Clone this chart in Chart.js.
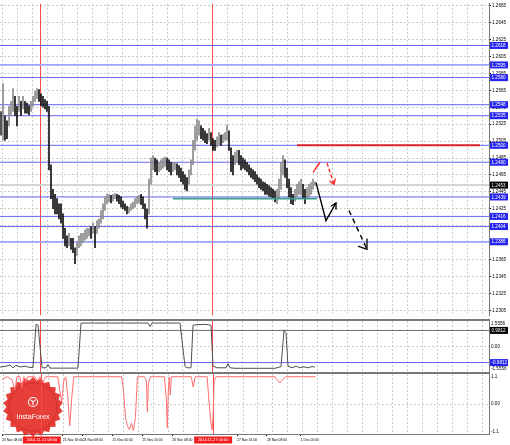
<!DOCTYPE html>
<html>
<head>
<meta charset="utf-8">
<script src="https://cdn.jsdelivr.net/npm/chart.js@4.4.1/dist/chart.umd.min.js"></script>
<style>
  body { margin: 0; background: #fff; }
  #wrap { position: relative; width: 510px; height: 445px; overflow: hidden; background: #fff; }
  canvas, .sep { position: absolute; left: 0; }
  .sep { width: 490px; background: #787878; }
</style>
</head>
<body>
<div id="wrap">
  <canvas id="main" width="510" height="319" style="top:0"></canvas>
  <div class="sep" style="top:319px;height:2px"></div>
  <canvas id="ind1" width="510" height="51" style="top:321px"></canvas>
  <div class="sep" style="top:372px;height:2px"></div>
  <canvas id="ind2" width="510" height="71" style="top:374px"></canvas>
</div>
<script>
// H1 bars, one per index (bar 0 = first visible bar)
const barHigh = [
  1.2540,1.2573,1.2535,1.2529,1.2546,1.2552,1.2567,1.2558,1.2546,1.2558,
  1.2552,1.2558,1.2552,1.2550,1.2547,1.2552,1.2558,1.2564,1.2567,1.2566,
  1.2561,1.2558,1.2554,1.2552,1.2546,1.2477,1.2448,1.2442,1.2437,1.2431,
  1.2431,1.2419,1.2402,1.2393,1.2396,1.2390,1.2390,1.2379,1.2385,1.2393,
  1.2396,1.2396,1.2400,1.2402,1.2402,1.2404,1.2408,1.2404,1.2411,1.2413,
  1.2423,1.2431,1.2439,1.2442,1.2442,1.2441,1.2442,1.2443,1.2442,1.2441,
  1.2439,1.2434,1.2431,1.2428,1.2427,1.2431,1.2433,1.2437,1.2439,1.2441,
  1.2442,1.2439,1.2431,1.2425,1.2460,1.2485,1.2488,1.2485,1.2483,1.2480,
  1.2483,1.2485,1.2486,1.2485,1.2483,1.2480,1.2479,1.2480,1.2478,1.2476,
  1.2473,1.2469,1.2465,1.2462,1.2471,1.2483,1.2506,1.2523,1.2531,1.2529,
  1.2523,1.2520,1.2517,1.2514,1.2520,1.2515,1.2508,1.2506,1.2510,1.2515,
  1.2512,1.2513,1.2515,1.2524,1.2517,1.2497,1.2488,1.2492,1.2494,1.2494,
  1.2488,1.2485,1.2483,1.2480,1.2477,1.2473,1.2471,1.2469,1.2465,1.2462,
  1.2460,1.2457,1.2456,1.2454,1.2452,1.2450,1.2448,1.2446,1.2448,1.2460,
  1.2480,1.2488,1.2483,1.2473,1.2460,1.2450,1.2442,1.2448,1.2454,1.2457,
  1.2460,1.2454,1.2448,1.2450,1.2454,1.2456,1.2460,1.2457
];
const barLow = [
  1.2512,1.2506,1.2506,1.2508,1.2523,1.2535,1.2540,1.2535,1.2523,1.2540,
  1.2535,1.2543,1.2538,1.2538,1.2536,1.2540,1.2546,1.2552,1.2555,1.2552,
  1.2547,1.2545,1.2543,1.2540,1.2471,1.2437,1.2425,1.2419,1.2419,1.2413,
  1.2408,1.2390,1.2381,1.2379,1.2381,1.2377,1.2373,1.2360,1.2370,1.2379,
  1.2381,1.2385,1.2388,1.2390,1.2393,1.2390,1.2396,1.2379,1.2396,1.2402,
  1.2408,1.2413,1.2423,1.2431,1.2433,1.2432,1.2434,1.2437,1.2434,1.2431,
  1.2427,1.2425,1.2423,1.2419,1.2420,1.2423,1.2425,1.2427,1.2431,1.2432,
  1.2430,1.2425,1.2413,1.2402,1.2419,1.2454,1.2471,1.2469,1.2465,1.2469,
  1.2471,1.2473,1.2475,1.2471,1.2469,1.2465,1.2469,1.2471,1.2465,1.2462,
  1.2457,1.2454,1.2448,1.2446,1.2454,1.2465,1.2477,1.2494,1.2506,1.2512,
  1.2508,1.2506,1.2503,1.2502,1.2506,1.2500,1.2494,1.2494,1.2498,1.2500,
  1.2500,1.2503,1.2506,1.2506,1.2494,1.2469,1.2465,1.2477,1.2480,1.2477,
  1.2471,1.2473,1.2471,1.2469,1.2465,1.2462,1.2460,1.2457,1.2454,1.2450,
  1.2448,1.2446,1.2442,1.2442,1.2440,1.2439,1.2437,1.2433,1.2431,1.2437,
  1.2448,1.2465,1.2462,1.2450,1.2439,1.2431,1.2430,1.2434,1.2439,1.2442,
  1.2441,1.2437,1.2431,1.2437,1.2439,1.2442,1.2448,1.2453
];

const priceTicks = [1.2305, 1.2325, 1.2345, 1.2365, 1.2385, 1.2405, 1.2425, 1.2445, 1.2465,
  1.2485, 1.2505, 1.2525, 1.2545, 1.2565, 1.2585, 1.2605, 1.2625, 1.2645, 1.2665];
const levelPrices = [1.2618, 1.2595, 1.2580, 1.2548, 1.2535, 1.2500, 1.2480, 1.2439, 1.2416, 1.2404, 1.2386];
const lastPrice = 1.2453;
const redLevelBars = [148, 239.5];
const redLevelPrice = 1.2500;
const tealBars = [86, 158];
const tealPrice = 1.2437;

const markerBars = [19.5, 105.5];
const markerLabels = ['2014.11.21 08:00', '2014.11.27 00:00'];
const timeTickBars = [-0.5, 30, 40, 55, 70, 85, 117.5, 132.5, 149.5];
const timeTickLabels = ['20 Nov 08:00', '21 Nov 16:00', '24 Nov 08:00', '25 Nov 00:00', '25 Nov 16:00',
  '26 Nov 08:00', '27 Nov 16:00', '28 Nov 08:00', '1 Dec 00:00'];

// forecast drawing, [bar, price]
const arrowRedUp = [[156, 1.2468], [159.5, 1.2480]];
const arrowRedDown = [[163, 1.2479], [166.5, 1.2454]];
const arrowRedHead = [[164.3, 1.2458], [166.5, 1.2454], [167.2, 1.2461]];
const arrowBlack = [[157.5, 1.2456], [162.5, 1.2411], [167.5, 1.2432]];
const arrowBlackHead = [[165, 1.2428], [167.5, 1.2432], [167.5, 1.2424]];
const arrowDash = [[174, 1.2423], [183, 1.2377]];
const arrowDashHead = [[178.5, 1.2381], [183, 1.2377], [183, 1.2390]];

// indicator 1 (grey)
const ind1Bars = [-0.5, 2, 4.5, 6, 7.5, 9.5, 12, 14.5, 16, 17.5, 18.5, 20.5, 22.5, 23.5, 24.5, 38.5, 40,
  73.5, 74.5, 75.5, 89.5, 92, 93, 95, 96, 98, 102, 105, 106, 108, 112.5, 113.5, 114.5, 117, 137, 140,
  141.5, 142.5, 143.5, 145.5, 147.5, 149.5, 151.5, 153.5, 155.5, 157];
const ind1Vals = [-1.25, -1.22, -1.13, -1.3, -1.15, -1.25, -1.2, -1.28, -1.28, 1.35, 1.3, -1.3, -1.3, -1.1, -1.32, -1.32, 1.43,
  1.43, 1.22, 1.43, 1.43, -1.2, -1.3, -1.3, 1.3, 1.33, 1.35, 1.3, -1.2, -1.3, -1.3, -1.05, -1.3, -1.33, -1.33, -1.22,
  0.98, 0.85, -1.2, -1.3, -1.2, -1.3, -1.24, -1.3, -1.22, -1.26];
const ind1Levels = [0.9812, -0.9812];
const ind1Range = 1.5556;

// indicator 2 (red)
const ind2Bars = [-0.5, 2, 4.5, 6, 7, 8.5, 9.5, 10.5, 11.5, 12.5, 16, 17.5, 18.5, 20, 21.5, 27.5, 28.5, 29.5, 30.5,
  31.5, 32.5, 33.5, 34.5, 35.5, 59.5, 60.5, 61.5, 62.5, 63.5, 64.5, 65.5, 66.5, 67.5, 71, 72, 72.5, 73, 74,
  81, 82, 82.5, 83, 83.5, 84, 84.5, 94.5, 95.5, 96.5, 102.5, 103.5, 104.5, 105, 105.5, 106, 107,
  136.5, 138, 139, 140.5, 142, 157];
const ind2Vals = [0.9, 1.0, 0.9, 0.5, 1.0, 1.0, 0.6, 1.0, 0.8, 1.0, 1.0, 0.85, 1.0, 0.8, 1.0, 1.0, 0.5, 0.07, 0.85,
  1.0, 0.3, -0.8, 0.2, 1.0, 1.0, 0.5, -0.5, -0.8, -0.95, -0.7, -0.97, -0.5, 1.0, 1.0, 0.85, -0.3, 0.75, 1.0,
  1.0, 0.2, -0.88, 0.5, 1.0, 0.33, 1.0, 1.0, 0.62, 1.0, 1.0, 0.0, -0.77, -0.95, -0.4, 0.85, 1.0,
  1.0, 0.85, 0.77, 0.9, 1.0, 1.0];
const ind2Range = 1.1;

// ---- layout ----
const X_MIN = -0.5, X_MAX = 244;          // 2 px per bar
const Y_TOP = 1.26673, Y_BOTTOM = 1.22992;
const gridBars = Array.from({ length: 33 }, (_, k) => 0.5 + 7.5 * k);
const FONT = "'Liberation Sans', Arial, sans-serif";
const GRID = '#cbcbcb';
const BLUE = '#2424ee';

Chart.defaults.font.family = FONT;
Chart.defaults.color = '#000';

const pts = arr => arr.map(([x, y]) => ({ x, y }));
const flat = (x0, x1, y) => [{ x: x0, y }, { x: x1, y }];
const line = (data, color, width, extra) => Object.assign({
  type: 'line', data, borderColor: color, borderWidth: width,
  pointRadius: 0, pointHoverRadius: 0, fill: false, tension: 0
}, extra || {});

function gridAxis() {
  return {
    type: 'linear', min: X_MIN, max: X_MAX, offset: false,
    afterBuildTicks: s => { s.ticks = gridBars.map(v => ({ value: v })); },
    afterFit: s => { s.height = 0; },
    ticks: { display: false },
    grid: { color: GRID, drawTicks: false, offset: false },
    border: { display: false, dash: [2, 2] }
  };
}

function tag(ctx, x, y, text, bg) {
  ctx.fillStyle = bg;
  ctx.fillRect(x, y - 3.5, 18, 7);
  ctx.fillStyle = '#fff';
  ctx.fillText(text, x + 1.5, y + 0.3);
}

function text(ctx, x, y, s) {
  ctx.fillStyle = '#000';
  ctx.fillText(s, x, y);
}

const markerLines = {
  id: 'markerLines',
  beforeDatasetsDraw(chart) {
    const { ctx, chartArea: a, scales: { x } } = chart;
    ctx.save();
    ctx.strokeStyle = '#ff4a4a';
    ctx.lineWidth = 1;
    markerBars.forEach(b => {
      const px = Math.floor(x.getPixelForValue(b)) + 0.5;
      ctx.beginPath();
      ctx.moveTo(px, a.top);
      ctx.lineTo(px, a.bottom);
      ctx.stroke();
    });
    ctx.restore();
  }
};

const commonOpts = {
  responsive: false, animation: false, events: [], devicePixelRatio: 1,
  layout: { padding: 0, autoPadding: false },
  plugins: { legend: { display: false }, tooltip: { enabled: false } }
};

// ---- main price panel ----
const barColors = barHigh.map((h, i) => {
  if (i === 0) return '#333';
  const mid = (h + barLow[i]) / 2, prev = (barHigh[i - 1] + barLow[i - 1]) / 2;
  return mid >= prev ? '#8c8c8c' : '#111';
});

const mainSets = [
  line(pts(arrowDashHead), '#000', 1.3, { order: 0 }),
  line(pts(arrowDash), '#000', 1.4, { order: 0, borderDash: [5, 4] }),
  line(pts(arrowBlackHead), '#000', 1.3, { order: 0 }),
  line(pts(arrowBlack), '#000', 1.4, { order: 0 }),
  line(pts(arrowRedHead), '#ff2a2a', 1.3, { order: 0 }),
  line(pts(arrowRedDown), '#ff2a2a', 1.4, { order: 0, borderDash: [4, 2] }),
  line(pts(arrowRedUp), '#ff2a2a', 1.4, { order: 0 }),
  line(flat(tealBars[0], tealBars[1], tealPrice), '#3f9c8e', 1.6, { order: 2 }),
  line(flat(redLevelBars[0], redLevelBars[1], redLevelPrice), '#e02424', 2, { order: 2 }),
  {
    type: 'bar', order: 5, barThickness: 1, borderWidth: 0,
    backgroundColor: barColors,
    data: barHigh.map((h, i) => ({ x: i, y: [barLow[i], h] }))
  }
];
levelPrices.forEach((p, k) => {
  const soft = k === 1 || k === levelPrices.length - 1;
  mainSets.push(line(flat(X_MIN, X_MAX, p), soft ? '#9ea4ff' : '#6464f4', soft ? 1.8 : 1, { order: 8 }));
});
mainSets.push(line(flat(X_MIN, X_MAX, lastPrice), '#d4d4d4', 2, { order: 9 }));

new Chart(document.getElementById('main'), {
  type: 'bar',
  data: { datasets: mainSets },
  options: Object.assign({}, commonOpts, {
    scales: {
      x: gridAxis(),
      y: {
        position: 'right', min: Y_BOTTOM, max: Y_TOP,
        afterFit: s => { s.width = 21; },
        afterBuildTicks: s => { s.ticks = priceTicks.map(v => ({ value: v })); },
        ticks: { callback: v => v.toFixed(4), font: { size: 4.6 }, color: '#000', padding: 1, autoSkip: false },
        grid: { color: GRID, tickColor: '#000', tickLength: 2, tickBorderDash: [] },
        border: { color: '#777', dash: [2, 2] }
      }
    }
  }),
  plugins: [markerLines, {
    id: 'priceTags',
    afterDraw(chart) {
      const { ctx, chartArea: a, scales: { y } } = chart;
      ctx.save();
      ctx.font = '4.6px ' + FONT;
      ctx.textBaseline = 'middle';
      levelPrices.forEach(p => tag(ctx, a.right + 1, y.getPixelForValue(p), p.toFixed(4), BLUE));
      tag(ctx, a.right + 1, y.getPixelForValue(lastPrice), lastPrice.toFixed(4), '#000');
      ctx.restore();
    }
  }]
});

// ---- indicator 1 ----
new Chart(document.getElementById('ind1'), {
  type: 'line',
  data: {
    datasets: [
      line(ind1Bars.map((b, i) => ({ x: b, y: ind1Vals[i] })), '#505050', 1, { order: 0 }),
      line(flat(X_MIN, X_MAX, ind1Levels[0]), '#6a6a6a', 1, { order: 1 }),
      line(flat(X_MIN, X_MAX, ind1Levels[1]), '#6464f4', 1, { order: 1 })
    ]
  },
  options: Object.assign({}, commonOpts, {
    scales: {
      x: gridAxis(),
      y: {
        position: 'right', min: -ind1Range, max: ind1Range,
        afterFit: s => { s.width = 21; },
        afterBuildTicks: s => { s.ticks = [{ value: 0 }]; },
        ticks: { display: false },
        grid: { color: GRID, drawTicks: false },
        border: { color: '#777', dash: [2, 2] }
      }
    }
  }),
  plugins: [markerLines, {
    id: 'ind1Tags',
    afterDraw(chart) {
      const { ctx, chartArea: a, scales: { y } } = chart;
      const x0 = a.right + 2;
      ctx.save();
      ctx.font = '4.6px ' + FONT;
      ctx.textBaseline = 'middle';
      text(ctx, x0, a.top + 2.5, ind1Range.toFixed(4));
      text(ctx, x0, y.getPixelForValue(0), '0.00');
      text(ctx, x0, a.bottom - 3, (-ind1Range).toFixed(4));
      tag(ctx, a.right + 1, y.getPixelForValue(ind1Levels[0]), ind1Levels[0].toFixed(4), '#000');
      tag(ctx, a.right + 1, y.getPixelForValue(ind1Levels[1]), ind1Levels[1].toFixed(4), BLUE);
      ctx.restore();
    }
  }]
});

// ---- indicator 2 ----
function drawLogo(ctx, cx, cy) {
  ctx.save();
  ctx.beginPath();
  const spikes = 22;
  for (let k = 0; k <= spikes * 2; k++) {
    const r = k % 2 === 0 ? 30 : 26.5;
    const ang = -Math.PI / 2 + Math.PI * k / spikes;
    const px = cx + r * Math.cos(ang), py = cy + r * Math.sin(ang);
    if (k) ctx.lineTo(px, py); else ctx.moveTo(px, py);
  }
  ctx.closePath();
  ctx.fillStyle = 'rgba(228,50,44,0.94)';
  ctx.fill();
  ctx.beginPath();
  ctx.arc(cx, cy, 24, 0, Math.PI * 2);
  ctx.strokeStyle = 'rgba(170,20,20,0.35)';
  ctx.lineWidth = 1;
  ctx.stroke();
  ctx.strokeStyle = '#fff';
  ctx.lineWidth = 1.1;
  ctx.beginPath();
  ctx.arc(cx, cy - 5, 4.5, 0, Math.PI * 2);
  ctx.stroke();
  ctx.beginPath();
  ctx.moveTo(cx - 2.3, cy - 7.2); ctx.lineTo(cx, cy - 5); ctx.lineTo(cx + 2.3, cy - 7.2);
  ctx.moveTo(cx, cy - 5); ctx.lineTo(cx, cy - 1.8);
  ctx.stroke();
  ctx.fillStyle = '#fff';
  ctx.font = '7px ' + FONT;
  ctx.textAlign = 'center';
  ctx.textBaseline = 'middle';
  ctx.fillText('InstaForex', cx, cy + 10);
  ctx.restore();
}

new Chart(document.getElementById('ind2'), {
  type: 'line',
  data: {
    datasets: [
      line(ind2Bars.map((b, i) => ({ x: b, y: ind2Vals[i] })), '#ff6e6e', 1)
    ]
  },
  options: Object.assign({}, commonOpts, {
    scales: {
      x: gridAxis(),
      xt: {
        type: 'linear', position: 'bottom', min: X_MIN, max: X_MAX, offset: false,
        afterBuildTicks: s => { s.ticks = timeTickBars.map(v => ({ value: v })); },
        afterFit: s => { s.height = 11; },
        ticks: {
          callback: (v, i) => timeTickLabels[i], align: 'start', font: { size: 3.4 },
          color: '#000', padding: 2, maxRotation: 0, autoSkip: false
        },
        grid: { drawOnChartArea: false, drawTicks: true, tickLength: 2, tickColor: '#000' },
        border: { display: true, color: '#777' }
      },
      y: {
        position: 'right', min: -ind2Range, max: ind2Range,
        afterFit: s => { s.width = 21; },
        afterBuildTicks: s => { s.ticks = [{ value: 0 }]; },
        ticks: { display: false },
        grid: { color: GRID, drawTicks: false },
        border: { color: '#777', dash: [2, 2] }
      }
    }
  }),
  plugins: [{
    id: 'logo',
    beforeDatasetsDraw(chart) { drawLogo(chart.ctx, 33, 33); }
  }, markerLines, {
    id: 'ind2Tags',
    afterDraw(chart) {
      const { ctx, chartArea: a, scales: { x, y } } = chart;
      ctx.save();
      ctx.font = '4.6px ' + FONT;
      ctx.textBaseline = 'middle';
      text(ctx, a.right + 2, a.top + 2.5, ind2Range.toFixed(1));
      text(ctx, a.right + 2, y.getPixelForValue(0), '0.00');
      text(ctx, a.right + 2, a.bottom - 2.5, (-ind2Range).toFixed(1));
      ctx.font = '4px ' + FONT;
      ctx.textAlign = 'center';
      markerBars.forEach((b, k) => {
        const px = x.getPixelForValue(b);
        ctx.fillStyle = '#f21c1c';
        ctx.fillRect(px - 19, a.bottom + 2.5, 38, 7);
        ctx.fillStyle = '#fff';
        ctx.fillText(markerLabels[k], px, a.bottom + 6.2);
      });
      ctx.restore();
    }
  }]
});
</script>
</body>
</html>
